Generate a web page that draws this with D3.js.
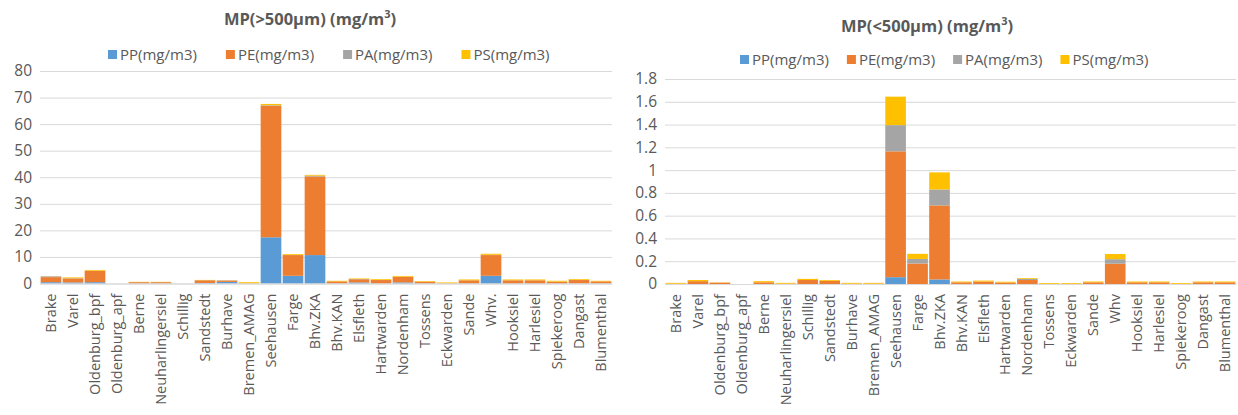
<!DOCTYPE html>
<html>
<head>
<meta charset="utf-8">
<script src="https://cdn.jsdelivr.net/npm/d3@7"></script>
<style>
  html, body { margin: 0; padding: 0; background: #fff; }
  svg { display: block; font-family: "Open Sans", "Noto Sans", sans-serif; }
</style>
</head>
<body>
<svg id="chart" width="1238" height="415"></svg>
<script>
// ---------- DATA ----------
const seriesNames = ["PP(mg/m3)", "PE(mg/m3)", "PA(mg/m3)", "PS(mg/m3)"];
const seriesColors = ["#5B9BD5", "#ED7D31", "#A5A5A5", "#FFC000"];

const categoriesLarge = ["Brake", "Varel", "Oldenburg_bpf", "Oldenburg_apf", "Berne", "Neuharlingersiel", "Schillig", "Sandstedt", "Burhave", "Bremen_AMAG", "Seehausen", "Farge", "Bhv.ZKA", "Bhv.KAN", "Elsfleth", "Hartwarden", "Nordenham", "Tossens", "Eckwarden", "Sande", "Whv.", "Hooksiel", "Harlesiel", "Spiekeroog", "Dangast", "Blumenthal"];
const ppLarge = [0.5, 0.4, 0.5, 0, 0.05, 0.05, 0, 0.2, 0.6, 0, 17.4, 2.9, 10.7, 0.05, 0.4, 0.05, 0.4, 0.05, 0, 0.05, 2.9, 0.05, 0.05, 0.05, 0.05, 0.05];
const peLarge = [1.9, 1.5, 4.2, 0, 0.45, 0.45, 0, 1.0, 0.5, 0.1, 49.5, 7.8, 29.6, 0.75, 1.2, 1.25, 2.1, 0.65, 0.1, 1.15, 7.8, 1.15, 1.15, 0.65, 1.25, 0.75];
const paLarge = [0.3, 0.1, 0.1, 0, 0.02, 0.02, 0, 0.05, 0.1, 0, 0.2, 0.1, 0.3, 0.02, 0.1, 0.02, 0.05, 0.02, 0, 0.02, 0.1, 0.02, 0.02, 0.02, 0.02, 0.02];
const psLarge = [0.05, 0.3, 0.3, 0, 0.1, 0.1, 0, 0.1, 0.05, 0.4, 0.5, 0.3, 0.3, 0.2, 0.2, 0.3, 0.3, 0.2, 0.3, 0.3, 0.4, 0.3, 0.3, 0.3, 0.3, 0.2];
const ticksLarge = [0, 10, 20, 30, 40, 50, 60, 70, 80];

const categoriesSmall = ["Brake", "Varel", "Oldenburg_bpf", "Oldenburg_apf", "Berne", "Neuharlingersiel", "Schillig", "Sandstedt", "Burhave", "Bremen_AMAG", "Seehausen", "Farge", "Bhv.ZKA", "Bhv.KAN", "Elsfleth", "Hartwarden", "Nordenham", "Tossens", "Eckwarden", "Sande", "Whv", "Hooksiel", "Harlesiel", "Spiekeroog", "Dangast", "Blumenthal"];
const ppSmall = [0, 0, 0, 0, 0, 0, 0, 0, 0, 0, 0.06, 0, 0.04, 0, 0, 0, 0, 0, 0, 0, 0, 0, 0, 0, 0, 0];
const peSmall = [0.003, 0.025, 0.012, 0, 0.015, 0.003, 0.035, 0.028, 0.003, 0.003, 1.105, 0.18, 0.65, 0.015, 0.022, 0.013, 0.035, 0.002, 0.002, 0.015, 0.178, 0.015, 0.015, 0.002, 0.015, 0.015];
const paSmall = [0, 0, 0, 0, 0, 0, 0, 0, 0, 0, 0.23, 0.04, 0.14, 0, 0, 0, 0.01, 0, 0, 0, 0.04, 0, 0, 0, 0, 0];
const psSmall = [0.007, 0.01, 0.002, 0, 0.01, 0.007, 0.01, 0.007, 0.007, 0.007, 0.25, 0.045, 0.15, 0.007, 0.008, 0.007, 0.007, 0.007, 0.007, 0.007, 0.045, 0.007, 0.007, 0.007, 0.007, 0.007];
const ticksSmall = [0, 0.2, 0.4, 0.6, 0.8, 1, 1.2, 1.4, 1.6, 1.8];

// ---------- DRAW ----------
const svg = d3.select("#chart");

function drawChart(cfg) {
  const g = svg.append("g");
  const rows = cfg.categories.map((c, i) => ({
    cat: c,
    "PP(mg/m3)": cfg.pp[i], "PE(mg/m3)": cfg.pe[i], "PA(mg/m3)": cfg.pa[i], "PS(mg/m3)": cfg.ps[i]
  }));
  const stack = d3.stack().keys(seriesNames)(rows);

  const x = d3.scaleBand().domain(cfg.categories).range([cfg.left, cfg.right]).paddingInner(0.06).paddingOuter(0.03);
  const y = d3.scaleLinear().domain([0, d3.max(cfg.ticks)]).range([cfg.bottom, cfg.top]);

  // gridlines
  const yAxis = d3.axisLeft(y).tickValues(cfg.ticks).tickSize(-(cfg.right - cfg.left)).tickFormat(d3.format("~g")).tickPadding(8);
  const ya = g.append("g").attr("transform", `translate(${cfg.left},0)`).call(yAxis);
  ya.select(".domain").remove();
  ya.selectAll(".tick line").attr("stroke", "#D9D9D9").attr("stroke-width", 1);
  ya.selectAll(".tick text").attr("fill", "#595959").style("font-size", "15.5px").style("font-family", "'Open Sans', sans-serif");

  // bars
  g.append("g").selectAll("g").data(stack).join("g")
    .attr("fill", (d, i) => seriesColors[i])
    .selectAll("rect").data(d => d).join("rect")
    .attr("x", d => x(d.data.cat))
    .attr("width", x.bandwidth())
    .attr("y", d => y(d[1]))
    .attr("height", d => Math.max(0, y(d[0]) - y(d[1])));

  // x axis
  const xAxis = d3.axisBottom(x).tickSize(0).tickPadding(6);
  const xa = g.append("g").attr("transform", `translate(0,${cfg.bottom})`).call(xAxis);
  xa.select(".domain").attr("stroke", "#D9D9D9");
  xa.selectAll(".tick text")
    .attr("fill", "#595959")
    .style("font-size", "14.5px")
    .style("font-family", "'Open Sans', sans-serif")
    .attr("text-anchor", "end")
    .attr("transform", "rotate(-90)")
    .attr("x", -10)
    .attr("y", 0)
    .attr("dy", "0.35em");

  // title
  const t = g.append("text").attr("x", cfg.titleX).attr("y", cfg.titleY)
    .attr("text-anchor", "middle").attr("fill", "#595959")
    .style("font-size", "16.5px").style("font-weight", "bold");
  t.append("tspan").text(cfg.title);
  t.append("tspan").text("3").attr("baseline-shift", "super").style("font-size", "11px");
  t.append("tspan").text(")");

  // legend
  const lg = g.append("g").attr("transform", `translate(0,${cfg.legendY})`);
  let cx = cfg.legendX;
  seriesNames.forEach((name, i) => {
    lg.append("rect").attr("x", cx).attr("y", -5).attr("width", 9).attr("height", 9).attr("fill", seriesColors[i]);
    const tx = lg.append("text").attr("x", cx + 12).attr("y", 0).attr("dy", "0.35em")
      .attr("fill", "#595959").style("font-size", "15px").text(name);
    cx += 12 + tx.node().getComputedTextLength() + cfg.legendGap;
  });
}

drawChart({
  categories: categoriesLarge, pp: ppLarge, pe: peLarge, pa: paLarge, ps: psLarge, ticks: ticksLarge,
  left: 40, right: 612, top: 71, bottom: 283.5,
  title: "MP(>500µm) (mg/m", titleX: 310, titleY: 25,
  legendX: 108, legendY: 55, legendGap: 29
});

drawChart({
  categories: categoriesSmall, pp: ppSmall, pe: peSmall, pa: paSmall, ps: psSmall, ticks: ticksSmall,
  left: 665, right: 1236, top: 79, bottom: 284,
  title: "MP(<500µm) (mg/m", titleX: 927, titleY: 32,
  legendX: 740, legendY: 60, legendGap: 18
});
</script>
</body>
</html>
